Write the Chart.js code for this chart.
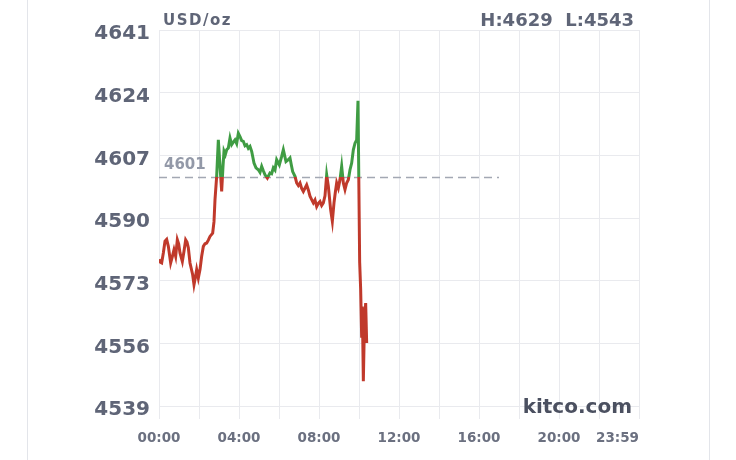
<!DOCTYPE html>
<html>
<head>
<meta charset="utf-8">
<script src="https://cdn.jsdelivr.net/npm/chart.js@4.4.1/dist/chart.umd.min.js"></script>
<style>
  html, body { margin: 0; padding: 0; background: #fff; }
  #wrap { width: 736px; height: 460px; position: relative; }
</style>
</head>
<body>
<div id="wrap"><canvas id="myChart" width="736" height="460"></canvas></div>
<script>
// minutes since 00:00 and gold price (USD/oz)
var times = [0, 4, 8, 13, 18, 23, 28, 35, 40, 45, 50, 55, 59, 63, 70, 75, 80, 84, 88, 93, 101, 105, 109, 113, 118, 123, 128, 133, 138, 143,
  148, 153, 161, 165, 168, 173, 178, 185, 188, 192, 195, 199, 203, 208, 213, 218, 223, 228, 233, 238, 243, 248, 253, 258, 263, 268, 273, 278, 285, 291,
  298, 303, 308, 313, 318, 325, 333, 338, 343, 348, 353, 361, 368, 373, 381, 388, 393, 397, 401, 408, 413, 418, 423, 428, 433, 443, 448, 453,
  458, 463, 468, 473, 478, 483, 488, 493, 498, 503, 508, 515, 520, 525, 529, 533, 538, 543, 548, 553, 558, 563, 568, 573, 578, 583,
  588, 593, 597, 602, 605, 608, 610, 613, 616, 620, 623];
var prices = [4578.8, 4578.0, 4577.8, 4580.5, 4583.7, 4584.2, 4582.3, 4577.8, 4579.5, 4581.4, 4579.6, 4584.1, 4583.0, 4580.5, 4578.2, 4581.0, 4584.1, 4583.5, 4581.9, 4577.8, 4574.6, 4571.9, 4573.8, 4576.0, 4573.7, 4576.0, 4579.6, 4582.3, 4583.0, 4583.2,
  4584.0, 4585.0, 4585.9, 4589.0, 4595.0, 4601.3, 4611.2, 4601.3, 4597.2, 4604.0, 4608.1, 4607.2, 4608.5, 4609.0, 4611.7, 4609.9, 4610.6, 4611.2, 4610.2, 4613.0, 4612.1, 4611.0, 4610.8, 4609.6, 4609.9, 4608.9, 4609.4, 4608.1, 4604.9, 4603.6,
  4603.1, 4602.4, 4604.0, 4602.8, 4601.7, 4600.8, 4602.2, 4602.0, 4603.6, 4603.0, 4605.8, 4604.4, 4606.7, 4608.5, 4605.3, 4605.8, 4606.3, 4604.4, 4602.6, 4601.3, 4599.5, 4598.8, 4599.5, 4598.0, 4597.2, 4599.0, 4597.6, 4595.9,
  4595.0, 4594.1, 4594.9, 4593.1, 4594.0, 4594.5, 4593.4, 4594.1, 4596.0, 4601.7, 4598.6, 4592.2, 4589.1, 4594.1, 4597.0, 4599.5, 4598.1, 4600.4, 4604.0, 4599.5, 4597.7, 4599.5, 4600.4, 4603.1, 4604.9, 4608.5,
  4610.3, 4611.2, 4621.8, 4578.0, 4570.6, 4557.5, 4566.0, 4545.7, 4560.0, 4566.9, 4556.1];

var baseline = 4601;          // previous close
var baselineEnd = 1020;       // dashed line runs to ~17:00
var yTicks = [4539, 4556, 4573, 4590, 4607, 4624, 4641];
var xLabelTimes = [0, 240, 480, 720, 960, 1200, 1440];
var xLabels = ['00:00', '04:00', '08:00', '12:00', '16:00', '20:00', '23:59'];
var highLow = 'H:4629  L:4543';

var green = '#3f9c43';
var red = '#c0392b';
var gridColor = '#e9eaee';
var font = 'DejaVu Sans';

var points = [];
for (var i = 0; i < times.length; i++) {
  points.push({x: times[i], y: prices[i]});
}

// green above the previous close, red below
function splitColor(context) {
  var chart = context.chart;
  var area = chart.chartArea;
  if (!area) return green;
  var yb = chart.scales.y.getPixelForValue(baseline);
  var r = (yb - area.top) / (area.bottom - area.top);
  r = Math.min(Math.max(r, 0), 1);
  var g = chart.ctx.createLinearGradient(0, area.top, 0, area.bottom);
  g.addColorStop(0, green);
  g.addColorStop(r, green);
  g.addColorStop(r, red);
  g.addColorStop(1, red);
  return g;
}

var textPlugin = {
  id: 'kitcoText',
  beforeDraw: function (chart) {
    var c = chart.ctx;
    c.save();
    c.strokeStyle = '#e3e5ea';
    c.lineWidth = 1;
    c.beginPath();
    c.moveTo(27.5, 0); c.lineTo(27.5, 460);
    c.moveTo(709.5, 0); c.lineTo(709.5, 460);
    c.stroke();
    c.restore();
  },
  afterDraw: function (chart) {
    var c = chart.ctx;
    var xs = chart.scales.x;
    var ys = chart.scales.y;
    c.save();
    c.textBaseline = 'middle';

    // time labels
    c.font = 'bold 13.5px "' + font + '"';
    c.fillStyle = '#6b7080';
    for (var i = 0; i < xLabels.length; i++) {
      c.textAlign = (i === xLabels.length - 1) ? 'right' : 'center';
      c.fillText(xLabels[i], xs.getPixelForValue(xLabelTimes[i]), 438);
    }

    // unit and high / low
    c.font = 'bold 15px "' + font + '"';
    c.fillStyle = '#5f6577';
    c.textAlign = 'left';
    c.letterSpacing = '1.5px';
    c.fillText('USD/oz', xs.left + 4, 21);
    c.letterSpacing = '0px';
    c.font = 'bold 18px "' + font + '"';
    c.textAlign = 'right';
    c.fillText(highLow, xs.right - 5, 21);

    // previous close label
    c.font = 'bold 15px "' + font + '"';
    c.fillStyle = '#9399a8';
    c.textAlign = 'left';
    c.fillText(String(baseline), xs.left + 5, ys.getPixelForValue(baseline) - 12);

    // watermark
    c.font = 'bold 20px "' + font + '"';
    c.fillStyle = '#4b5060';
    c.textAlign = 'right';
    c.fillText('kitco.com', xs.right - 7, 408);
    c.restore();
  }
};

var ctx = document.getElementById('myChart');
var myChart = new Chart(ctx, {
  type: 'line',
  data: {
    datasets: [
      {
        data: points,
        borderColor: splitColor,
        borderWidth: 3,
        pointRadius: 0,
        tension: 0,
        fill: false
      },
      {
        data: [{x: 0, y: baseline}, {x: baselineEnd, y: baseline}],
        borderColor: '#a3a8b3',
        borderWidth: 1.5,
        borderDash: [8, 5],
        pointRadius: 0,
        fill: false
      }
    ]
  },
  options: {
    responsive: false,
    animation: false,
    layout: {padding: {top: 30, right: 97, left: 0, bottom: 0}},
    plugins: {legend: {display: false}, tooltip: {enabled: false}},
    scales: {
      x: {
        type: 'linear',
        min: 0,
        max: 1440,
        afterFit: function (scale) { scale.height = 54; },
        ticks: {display: false, stepSize: 120},
        grid: {color: gridColor, lineWidth: 1, drawTicks: true, tickLength: 13},
        border: {display: false}
      },
      y: {
        min: 4539,
        max: 4641,
        afterFit: function (scale) { scale.width = 159; },
        afterBuildTicks: function (scale) {
          scale.ticks = yTicks.map(function (v) { return {value: v}; });
        },
        ticks: {
          color: '#5f6577',
          font: {family: font, size: 20, weight: 'bold'},
          padding: 9,
          labelOffset: 4,
          callback: function (v) { return String(v); }
        },
        grid: {color: gridColor, lineWidth: 1, drawTicks: false},
        border: {display: false}
      }
    }
  },
  plugins: [textPlugin]
});
</script>
</body>
</html>
